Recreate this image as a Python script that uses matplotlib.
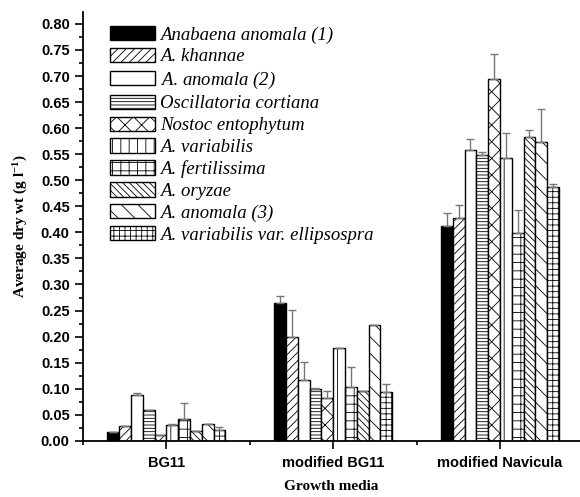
import numpy as np
import matplotlib
matplotlib.use('Agg')
import matplotlib.pyplot as plt
from matplotlib.ticker import MultipleLocator, FixedLocator, FormatStrFormatter

plt.rcParams['hatch.linewidth'] = 0.6
plt.rcParams['mathtext.fontset'] = 'custom'
plt.rcParams['mathtext.it'] = 'Liberation Serif:italic'
plt.rcParams['mathtext.rm'] = 'Liberation Serif'
plt.rcParams['mathtext.bf'] = 'Liberation Serif:bold'

# ---------------------------------------------------------------
# data
# ---------------------------------------------------------------
media = ['BG11', 'modified BG11', 'modified Navicula']

strains = ['Anabaena anomala (1)', 'A. khannae', r'$\it{A.\,anomala}$ (2)',
           'Oscillatoria cortiana', 'Nostoc entophytum', 'A. variabilis',
           'A. fertilissima', 'A. oryzae', 'A. anomala (3)',
           'A. variabilis var. ellipsospra']

# mean dry weight per strain, one value per medium
anomala1     = [0.017, 0.265, 0.413]
khannae      = [0.029, 0.200, 0.427]
anomala2     = [0.087, 0.117, 0.558]
oscillatoria = [0.060, 0.099, 0.549]
nostoc       = [0.012, 0.082, 0.695]
variabilis   = [0.030, 0.178, 0.542]
fertilissima = [0.042, 0.103, 0.399]
oryzae       = [0.019, 0.096, 0.583]
anomala3     = [0.032, 0.222, 0.574]
ellipsospra  = [0.020, 0.093, 0.488]

# upper error (standard deviation)
err_anomala1     = [0.000, 0.012, 0.024]
err_khannae      = [0.000, 0.052, 0.025]
err_anomala2     = [0.004, 0.035, 0.022]
err_oscillatoria = [0.000, 0.002, 0.005]
err_nostoc       = [0.000, 0.014, 0.047]
err_variabilis   = [0.003, 0.001, 0.048]
err_fertilissima = [0.030, 0.038, 0.044]
err_oryzae       = [0.000, 0.000, 0.014]
err_anomala3     = [0.000, 0.001, 0.062]
err_ellipsospra  = [0.007, 0.017, 0.005]

values = [anomala1, khannae, anomala2, oscillatoria, nostoc,
          variabilis, fertilissima, oryzae, anomala3, ellipsospra]
errors = [err_anomala1, err_khannae, err_anomala2, err_oscillatoria, err_nostoc,
          err_variabilis, err_fertilissima, err_oryzae, err_anomala3, err_ellipsospra]

hatches = [None, '////', None, '-----', 'xx', '||', '++', '\\\\\\\\\\', '\\\\', '+++']
faces = ['black'] + ['white'] * 9

# ---------------------------------------------------------------
# plot
# ---------------------------------------------------------------
fig = plt.figure(figsize=(5.8, 4.97), dpi=100)
ax = fig.add_axes([0.143, 0.113, 0.857, 0.863])

x = np.arange(1, len(media) + 1)
w = 0.0707
n = len(strains)
for i in range(n):
    pos = x + (i - (n - 1) / 2) * w
    yerr = [np.zeros(len(media)), errors[i]]
    ax.bar(pos, values[i], width=w, color=faces[i], edgecolor='black',
           linewidth=1.0, hatch=hatches[i], label=strains[i],
           yerr=yerr, error_kw=dict(ecolor='#777777', elinewidth=1.0,
                                    capsize=3, capthick=1.0))

ax.set_xlim(0.5, 3.48)
ax.set_ylim(0, 0.823)
ax.xaxis.set_major_locator(FixedLocator(x))
ax.xaxis.set_minor_locator(FixedLocator([0.5, 1.5, 2.5, 3.5]))
ax.set_xticklabels(media)
ax.yaxis.set_major_locator(MultipleLocator(0.05))
ax.yaxis.set_minor_locator(MultipleLocator(0.025))
ax.yaxis.set_major_formatter(FormatStrFormatter('%.2f'))

for lbl in ax.get_xticklabels() + ax.get_yticklabels():
    lbl.set_family('Liberation Sans')
    lbl.set_fontweight('bold')
    lbl.set_fontsize(10.5)

ax.tick_params(which='major', direction='out', length=6, width=1.2)
ax.tick_params(which='minor', direction='out', length=3, width=1.2)
ax.tick_params(axis='x', pad=5)
ax.spines['top'].set_visible(False)
ax.spines['right'].set_visible(False)
ax.spines['left'].set_linewidth(1.3)
ax.spines['bottom'].set_linewidth(1.3)

ax.set_ylabel(r'Average dry wt (g l$^{\mathbf{-1}}$)', family='Liberation Serif',
              fontweight='bold', fontsize=11, labelpad=8)
ax.set_xlabel('Growth media', family='Liberation Serif', fontweight='bold',
              fontsize=11, labelpad=7)

leg = ax.legend(loc='upper left', bbox_to_anchor=(0.04, 0.985), frameon=False,
                prop={'family': 'Liberation Serif', 'style': 'italic', 'size': 13.5},
                handlelength=2.4, handleheight=0.8, handletextpad=0.25,
                labelspacing=0.22, borderaxespad=0)

plt.savefig('out.png', dpi=100)
